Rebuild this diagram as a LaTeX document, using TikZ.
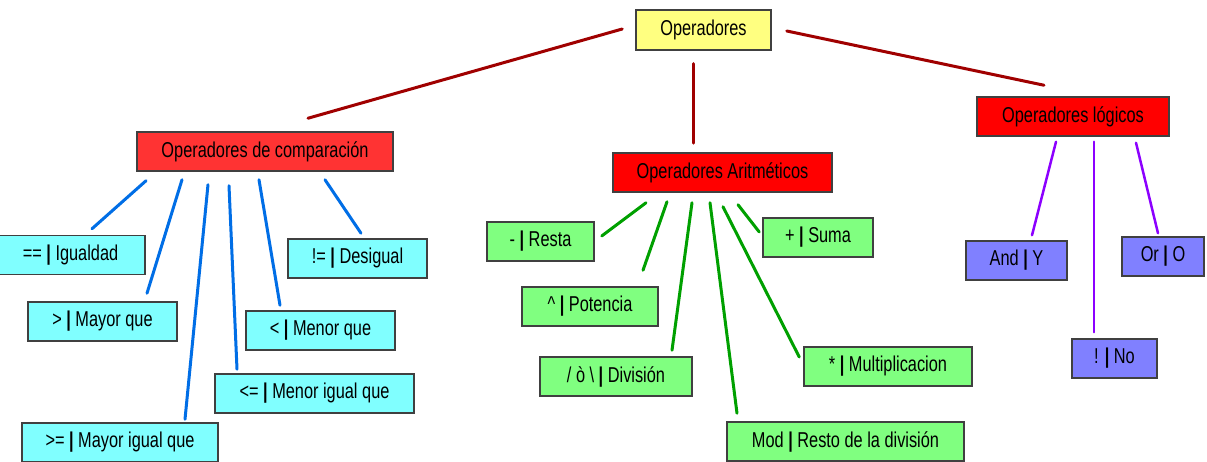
\documentclass[tikz,border=0pt]{standalone}
\usepackage{fontspec}
\setmainfont{Liberation Sans}[FakeStretch=0.76]
\definecolor{amarillo}{RGB}{255,255,128}
\definecolor{rojoclaro}{RGB}{255,51,51}
\definecolor{rojo}{RGB}{255,0,0}
\definecolor{celeste}{RGB}{128,255,255}
\definecolor{verde}{RGB}{128,255,128}
\definecolor{lila}{RGB}{128,128,255}
\definecolor{granate}{RGB}{160,0,0}
\definecolor{azul}{RGB}{0,110,230}
\definecolor{verdeosc}{RGB}{0,160,0}
\definecolor{violeta}{RGB}{140,0,255}
\newcommand{\barra}{\textbf{|}}
\begin{document}
\begin{tikzpicture}[x=1pt,y=1pt,font=\fontsize{21.5}{24}\selectfont,
    caja/.style={draw=black!75,line width=1.5pt,minimum height=39pt,inner sep=0pt},
    enlace/.style={line width=3pt,line cap=round}]
                \fill[white] (0,0) rectangle (1207,462);
                \useasboundingbox (0,0) rectangle (1207,462);
                \node[caja,fill=amarillo,minimum width=135pt,minimum height=40pt] (op) at (703.5,432) {Operadores};
                \node[caja,fill=rojoclaro,minimum width=256pt] (comp) at (265,310.5) {Operadores de comparación};
                \node[caja,fill=rojo,minimum width=219pt] (arit) at (722.5,289.5) {Operadores Aritméticos};
                \node[caja,fill=rojo,minimum width=192pt] (log) at (1073,345.5) {Operadores lógicos};
                \node[caja,fill=celeste,minimum width=149pt] (ig) at (70.5,207) {== \barra{} Igualdad};
                \node[caja,fill=celeste,minimum width=149pt] (mayor) at (102.5,140.5) {> \barra{} Mayor que};
                \node[caja,fill=celeste,minimum width=196pt] (mayig) at (120,19.5) {>= \barra{} Mayor igual que};
                \node[caja,fill=celeste,minimum width=149pt] (menor) at (320.5,131.5) {< \barra{} Menor que};
                \node[caja,fill=celeste,minimum width=199pt] (menig) at (314.5,68.5) {<= \barra{} Menor igual que};
                \node[caja,fill=celeste,minimum width=139pt] (desig) at (357.5,203.5) {!= \barra{} Desigual};
                \node[caja,fill=verde,minimum width=107pt] (resta) at (540.5,220.5) {- \barra{} Resta};
                \node[caja,fill=verde,minimum width=136pt] (pot) at (590,155.5) {\textasciicircum{} \barra{} Potencia};
                \node[caja,fill=verde,minimum width=152pt] (div) at (616,85.5) {/ ò \textbackslash{} \barra{} División};
                \node[caja,fill=verde,minimum width=237pt] (mod) at (845.5,20.5) {Mod \barra{} Resto de la división};
                \node[caja,fill=verde,minimum width=168pt] (mult) at (888,95.5) {* \barra{} Multiplicacion};
                \node[caja,fill=verde,minimum width=110pt] (suma) at (818,224.5) {+ \barra{} Suma};
                \node[caja,fill=lila,minimum width=101pt] (andy) at (1016.5,201.5) {And \barra{} Y};
                \node[caja,fill=lila,minimum width=82pt] (oro) at (1163,205.5) {Or \barra{} O};
                \node[caja,fill=lila,minimum width=85pt] (no) at (1114.5,103.5) {! \barra{} No};
                \draw[enlace,granate] ([shift={(-13,1)}]op.west) -- ([shift={(43,13)}]comp.north);
                \draw[enlace,granate] ([shift={(-10.5,-13)}]op.south) -- ([shift={(-29.5,9)}]arit.north);
                \draw[enlace,granate] ([shift={(15,-1)}]op.east) -- ([shift={(-29,11)}]log.north);
                \foreach \a/\b/\c in {{(-119,-9)}/ig/{(21.5,6)},{(-83,-8)}/mayor/{(44.5,8)},
                    {(-57,-13)}/mayig/{(65,3)},{(-36,-14)}/menig/{(-77.5,4)},
                    {(-6,-8)}/menor/{(-40.5,5)},{(60,-8)}/desig/{(3.5,5)}}{
                    \draw[enlace,azul] ([shift={\a}]comp.south) -- ([shift={\c}]\b.north);
                }
                \foreach \a/\b/\c in {{(-76.5,-10)}/resta.east/{(7,5.5)},{(-55.5,-9)}/pot.north/{(53,16)},
                    {(-30.5,-10)}/div.north/{(56,6)},{(-12.5,-10)}/mod.north/{(-108.5,8)},
                    {(0.5,-14)}/mult.west/{(-4,9.5)},{(15.5,-12)}/suma.west/{(-3,5.5)}}{
                    \draw[enlace,verdeosc] ([shift={\a}]arit.south) -- ([shift={\c}]\b);
                }
                \foreach \a/\b/\c in {{(-17,-5)}/andy/{(15.5,5)},{(21,-5)}/no/{(-20.5,6)},{(63,-6)}/oro/{(-5,3)}}{
                    \draw[enlace,violeta,line width=2.5pt] ([shift={\a}]log.south) -- ([shift={\c}]\b.north);
                }
            \end{tikzpicture}
\end{document}
